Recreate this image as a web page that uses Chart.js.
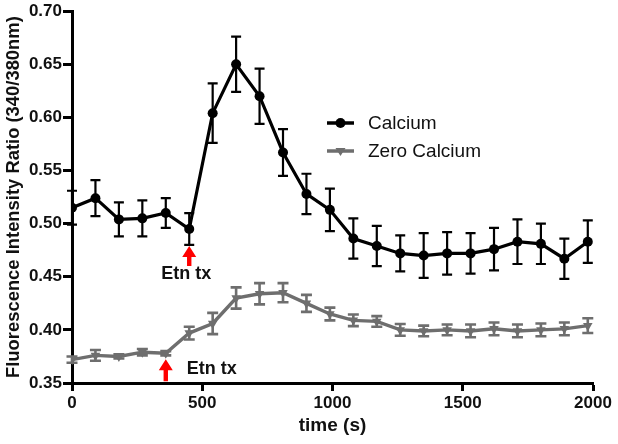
<!DOCTYPE html>
<html>
<head>
<meta charset="utf-8">
<script src="https://cdn.jsdelivr.net/npm/chart.js@4.4.1/dist/chart.umd.min.js"></script>
<style>
html,body{margin:0;padding:0;background:#fff;}
canvas{display:block;}
</style>
</head>
<body>
<canvas id="c" width="618" height="444"></canvas>
<script>
// ---- data ----
const timeSec = [0, 90, 180, 270, 360, 450, 540, 630, 720, 810, 900, 990, 1080, 1170, 1260, 1350, 1440, 1530, 1620, 1710, 1800, 1890, 1980];
const calcium = [0.515, 0.524, 0.504, 0.505, 0.510, 0.495, 0.604, 0.650, 0.620, 0.567, 0.528, 0.513, 0.486, 0.479, 0.472, 0.470, 0.472, 0.472, 0.476, 0.483, 0.481, 0.467, 0.483];
const calciumErr = [0.016, 0.017, 0.016, 0.017, 0.014, 0.015, 0.028, 0.026, 0.026, 0.022, 0.019, 0.020, 0.019, 0.019, 0.017, 0.021, 0.020, 0.019, 0.020, 0.021, 0.019, 0.019, 0.020];
const zeroCalcium = [0.372, 0.376, 0.375, 0.379, 0.378, 0.397, 0.406, 0.430, 0.434, 0.435, 0.425, 0.415, 0.409, 0.408, 0.400, 0.399, 0.400, 0.399, 0.401, 0.399, 0.400, 0.401, 0.404];
const zeroCalciumErr = [0.003, 0.005, 0.002, 0.003, 0.002, 0.006, 0.010, 0.010, 0.010, 0.009, 0.008, 0.006, 0.0055, 0.005, 0.0055, 0.005, 0.005, 0.006, 0.006, 0.006, 0.006, 0.006, 0.007];
const seriesLabels = ['Calcium', 'Zero Calcium'];
const yTicks = [0.35, 0.40, 0.45, 0.50, 0.55, 0.60, 0.65, 0.70];
const xTicks = [0, 500, 1000, 1500, 2000];
const treatmentTimes = [450, 360];
const treatmentLabel = 'Etn tx';

// ---- styles ----
const FONT = "'Liberation Sans', Arial, Helvetica, sans-serif";
const BLACK = '#000000';
const GREY = '#6e6e6e';
const RED = '#ff0000';

const toPts = (vals) => vals.map((v, i) => ({x: timeSec[i], y: v}));

const errorBarPlugin = {
  id: 'errorBars',
  beforeDatasetsDraw(chart) {
    const ctx = chart.ctx;
    const xs = chart.scales.x, ys = chart.scales.y;
    const errs = [calciumErr, zeroCalciumErr];
    const vals = [calcium, zeroCalcium];
    const cols = [BLACK, GREY];
    const caps = [5, 5.5];
    const widths = [2.2, 2.6];
    ctx.save();
    for (let d = 0; d < 2; d++) {
      ctx.strokeStyle = cols[d];
      ctx.lineWidth = widths[d];
      for (let i = 0; i < timeSec.length; i++) {
        const x = xs.getPixelForValue(timeSec[i]);
        const yt = ys.getPixelForValue(vals[d][i] + errs[d][i]);
        const yb = ys.getPixelForValue(vals[d][i] - errs[d][i]);
        ctx.beginPath();
        ctx.moveTo(x, yt); ctx.lineTo(x, yb);
        ctx.moveTo(x - caps[d], yt); ctx.lineTo(x + caps[d], yt);
        ctx.moveTo(x - caps[d], yb); ctx.lineTo(x + caps[d], yb);
        ctx.stroke();
      }
    }
    ctx.restore();
  }
};

const annotationPlugin = {
  id: 'annot',
  afterDraw(chart) {
    const ctx = chart.ctx;
    const xs = chart.scales.x, ys = chart.scales.y;
    const vals = [calcium, zeroCalcium];
    const errs = [calciumErr, zeroCalciumErr];
    ctx.save();
    const specs = [
      {d: 0, len: 20, labDx: -3, labDy: 8},
      {d: 1, len: 22, labDx: 46, labDy: -12}
    ];
    specs.forEach((s, k) => {
      const t = treatmentTimes[k];
      const idx = timeSec.indexOf(t);
      const x = xs.getPixelForValue(t);
      let tip;
      if (s.d === 0) tip = ys.getPixelForValue(vals[0][idx] - errs[0][idx]) + 1;
      else tip = ys.getPixelForValue(vals[1][idx]) + 6;
      const base = tip + s.len;
      ctx.fillStyle = RED;
      ctx.beginPath();
      ctx.moveTo(x, tip);
      ctx.lineTo(x + 7, tip + 11);
      ctx.lineTo(x + 2.2, tip + 11);
      ctx.lineTo(x + 2.2, base);
      ctx.lineTo(x - 2.2, base);
      ctx.lineTo(x - 2.2, tip + 11);
      ctx.lineTo(x - 7, tip + 11);
      ctx.closePath();
      ctx.fill();
      ctx.fillStyle = '#111';
      ctx.font = 'bold 18px ' + FONT;
      ctx.textAlign = 'center';
      ctx.textBaseline = 'middle';
      ctx.fillText(treatmentLabel, x + s.labDx, base + s.labDy);
    });
    // legend
    const lx0 = 327, lx1 = 354, tx = 368;
    const lys = [123, 151];
    const ds = chart.data.datasets;
    lys.forEach((ly, i) => {
      ctx.strokeStyle = ds[i].borderColor;
      ctx.lineWidth = 3.5;
      ctx.beginPath(); ctx.moveTo(lx0, ly); ctx.lineTo(lx1, ly); ctx.stroke();
      ctx.fillStyle = ds[i].borderColor;
      const cx = (lx0 + lx1) / 2;
      if (i === 0) {
        ctx.beginPath(); ctx.arc(cx, ly, 5, 0, Math.PI * 2); ctx.fill();
      } else {
        ctx.beginPath();
        ctx.moveTo(cx - 5, ly - 3); ctx.lineTo(cx + 5, ly - 3); ctx.lineTo(cx, ly + 5); ctx.closePath(); ctx.fill();
      }
      ctx.fillStyle = '#111';
      ctx.font = '19px ' + FONT;
      ctx.textAlign = 'left';
      ctx.textBaseline = 'middle';
      ctx.fillText(ds[i].label, tx, ly + 1);
    });
    ctx.restore();
  }
};

new Chart(document.getElementById('c'), {
  type: 'line',
  data: {
    datasets: [
      {
        label: seriesLabels[0],
        data: toPts(calcium),
        borderColor: BLACK,
        backgroundColor: BLACK,
        borderWidth: 3.2,
        pointRadius: 5,
        pointStyle: 'circle',
        pointBorderWidth: 0,
        tension: 0
      },
      {
        label: seriesLabels[1],
        data: toPts(zeroCalcium),
        borderColor: GREY,
        backgroundColor: GREY,
        borderWidth: 3.4,
        pointRadius: 5.5,
        pointStyle: 'triangle',
        rotation: 180,
        pointBorderWidth: 0,
        tension: 0
      }
    ]
  },
  options: {
    responsive: false,
    animation: false,
    events: [],
    layout: {padding: {left: 0, top: 10, right: 25, bottom: 0}},
    plugins: {legend: {display: false}, tooltip: {enabled: false}},
    scales: {
      x: {
        type: 'linear',
        min: 0, max: 2000,
        afterBuildTicks: (s) => { s.ticks = xTicks.map(v => ({value: v})); },
        afterFit: (s) => { s.height = 61; },
        grid: {display: true, drawOnChartArea: false, drawTicks: true, tickLength: 8, tickWidth: 3, tickColor: BLACK},
        border: {display: true, width: 3, color: BLACK},
        ticks: {color: '#111', font: {family: FONT, size: 17, weight: 'bold'}, padding: 2, maxRotation: 0, callback: (v) => String(v)},
        title: {display: true, text: 'time (s)', color: '#111', font: {family: FONT, size: 19, weight: 'bold'}, padding: {top: 2, bottom: 7}}
      },
      y: {
        type: 'linear',
        min: 0.35, max: 0.70,
        afterBuildTicks: (s) => { s.ticks = yTicks.map(v => ({value: v})); },
        afterFit: (s) => { s.width = 72; },
        grid: {display: true, drawOnChartArea: false, drawTicks: true, tickLength: 9, tickWidth: 3, tickColor: BLACK},
        border: {display: true, width: 3, color: BLACK},
        ticks: {color: '#111', font: {family: FONT, size: 17, weight: 'bold'}, padding: 1, callback: (v) => Number(v).toFixed(2)},
        title: {display: true, text: 'Fluorescence Intensity Ratio (340/380nm)', color: '#111', font: {family: FONT, size: 18.4, weight: 'bold'}, padding: {top: 3, bottom: 0}}
      }
    }
  },
  plugins: [errorBarPlugin, annotationPlugin]
});
</script>
</body>
</html>
